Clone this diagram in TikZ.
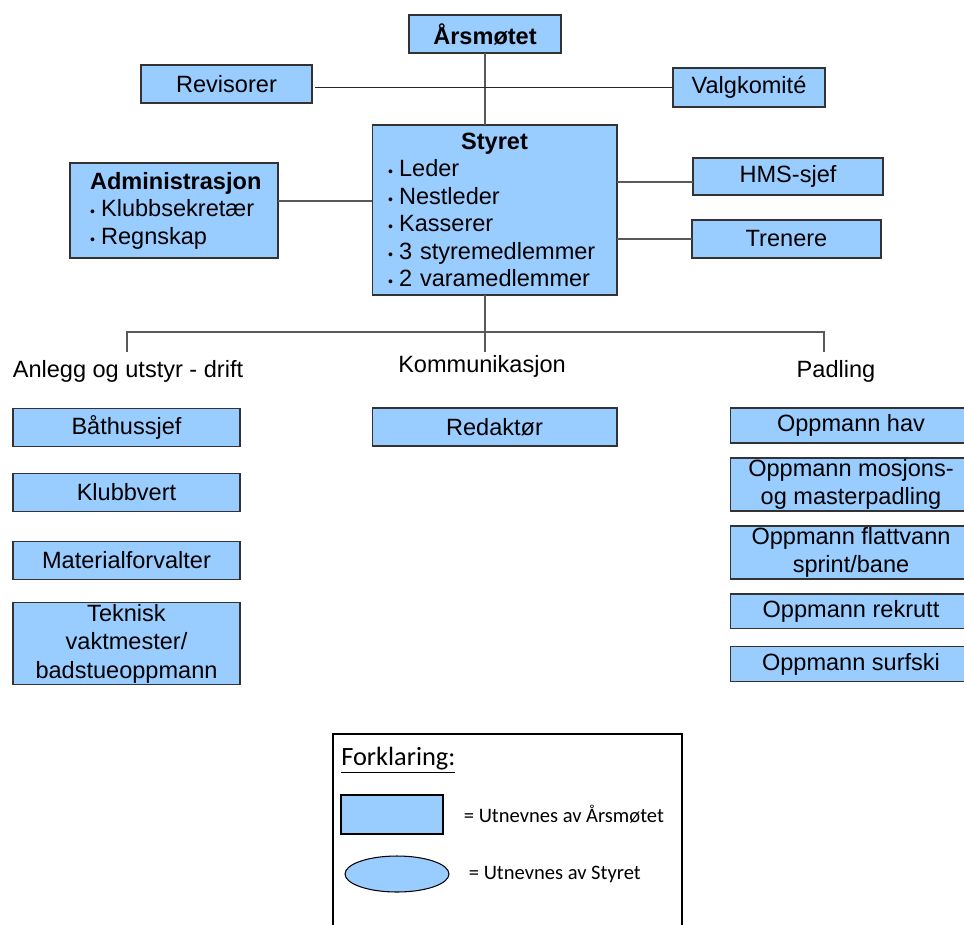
\documentclass[tikz,border=0pt]{standalone}
\usepackage{fontspec}
\setmainfont{Liberation Sans}
\newfontfamily\legendfont{Carlito}
\usepackage{tikz}
\usetikzlibrary{positioning,shapes.geometric}
\usepackage{xcolor}
\definecolor{boxblue}{HTML}{99CCFF}
\newcommand{\dotitem}{{\fontsize{8}{8}\selectfont •}\hspace{3.5pt}}

\begin{document}
\begin{tikzpicture}[x=0.02cm, y=-0.02cm,
box/.style={draw=black!80, fill=boxblue, line width=0.6pt, outer sep=0pt, inner sep=0pt, align=center, font=\fontsize{13.4}{15.6}\selectfont},
leftcol/.style={box, minimum width=4.54cm, minimum height=0.76cm},
rightcol/.style={box, minimum width=4.84cm, minimum height=0.7cm},
group/.style={inner sep=0pt, font=\fontsize{13.4}{15.6}\selectfont},
link/.style={draw=black!65, line width=0.6pt},
key/.style={inner sep=0pt, font=\legendfont\fontsize{11.7}{14}\selectfont}]

\useasboundingbox (0,0) rectangle (964,924);
\clip (0,0) rectangle (964,924);
\fill[white] (0,0) rectangle (964,924);

\node[box, minimum width=3.04cm, minimum height=0.76cm, font=\fontsize{13.4}{15.6}\selectfont\bfseries] (aarsmote) at (485,34) {Årsmøtet};
\node[box, minimum width=3.42cm, minimum height=0.76cm] (revisorer) at (226.5,84) {Revisorer};
\node[box, minimum width=3.04cm, minimum height=0.78cm] (valgkomite) at (749,87.5) {Valgkomité};

\node[box, minimum width=4.9cm, minimum height=3.4cm, text width=4.26cm, inner xsep=0.32cm, align=left] (styret) at (494.5,210)
{{\centering\bfseries Styret\par}\dotitem Leder\\ \dotitem Nestleder\\ \dotitem Kasserer\\ \dotitem 3 styremedlemmer\\ \dotitem 2 varamedlemmer};
\node[box, minimum width=4.16cm, minimum height=1.9cm, text width=3.36cm, inner xsep=0.4cm, align=left] (admin) at (174,210.5)
{{\centering\bfseries Administrasjon\par}\dotitem Klubbsekretær\\ \dotitem Regnskap};
\node[box, minimum width=3.8cm, minimum height=0.74cm] (hms) at (788,176.5) {HMS-sjef};
\node[box, minimum width=3.78cm, minimum height=0.76cm] (trenere) at (786.5,239) {Trenere};

\node[group] (anlegg) at (128,371) {Anlegg og utstyr - drift};
\node[group] (kommunikasjon) at (482,366) {Kommunikasjon};
\node[group] (padling) at (836,371) {Padling};

\node[leftcol] (baathus) at (126.5,427.5) {Båthussjef};
\node[leftcol] (klubbvert) [below=0.54cm of baathus] {Klubbvert};
\node[leftcol] (material) [below=0.6cm of klubbvert] {Materialforvalter};
\node[leftcol, minimum height=1.64cm, font=\fontsize{13.4}{16.2}\selectfont] (teknisk) [below=0.46cm of material] {Teknisk\\ vaktmester/\\ badstueoppmann};

\node[box, minimum width=4.9cm, minimum height=0.76cm] (redaktor) at (494.5,427) {Redaktør};

\node[rightcol] (hav) at (851,425.5) {Oppmann hav};
\node[rightcol, minimum height=1.06cm] (mosjon) [below=0.3cm of hav] {Oppmann mosjons-\\ og masterpadling};
\node[rightcol, minimum height=1.06cm] (flattvann) [below=0.3cm of mosjon] {Oppmann flattvann\\ sprint/bane};
\node[rightcol] (rekrutt) [below=0.3cm of flattvann] {Oppmann rekrutt};
\node[rightcol] (surfski) [below=0.36cm of rekrutt] {Oppmann surfski};

\coordinate (hub) at (485,332);
\coordinate (hubL) at (127,332);
\coordinate (hubR) at (824,332);
\coordinate (dropM) at (485,352);
\coordinate (dropL) at (127,352);
\coordinate (dropR) at (824,352);

\draw[link] (aarsmote.south) -- (aarsmote.south |- styret.north);
\draw[link, draw=black!85] (valgkomite.west) -- ([xshift=0.06cm]revisorer.east |- valgkomite.west);
\draw[link] ([yshift=0.19cm]admin.east) -- ([yshift=0.19cm]admin.east -| styret.west);
\draw[link] ([yshift=-0.11cm]hms.west) -- ([yshift=-0.11cm]hms.west -| styret.east);
\draw[link] (trenere.west) -- (trenere.west -| styret.east);
\draw[link] (aarsmote.south |- styret.south) -- (dropM);
\draw[link] (dropL) -- (hubL) -- (hubR) -- (dropR);

\draw[draw=black, line width=0.6pt] (333,734) rectangle (682,940);
\node[key, anchor=west, font=\legendfont\fontsize{15}{17}\selectfont] (forklaring) at (341,760) {\underline{Forklaring:}};
\node[draw=black, fill=boxblue, line width=0.6pt, minimum width=2.04cm, minimum height=0.78cm] (keybox) at (392,814.5) {};
\node[draw=black, fill=boxblue, line width=0.6pt, ellipse, minimum width=2.08cm, minimum height=0.72cm] (keyoval) at (397,874) {};
\node[key] (keyboxtext) [right=0.4cm of keybox] {= Utnevnes av Årsmøtet};
\node[key] (keyovaltext) [right=0.38cm of keyoval] {= Utnevnes av Styret};

\end{tikzpicture}
\end{document}
